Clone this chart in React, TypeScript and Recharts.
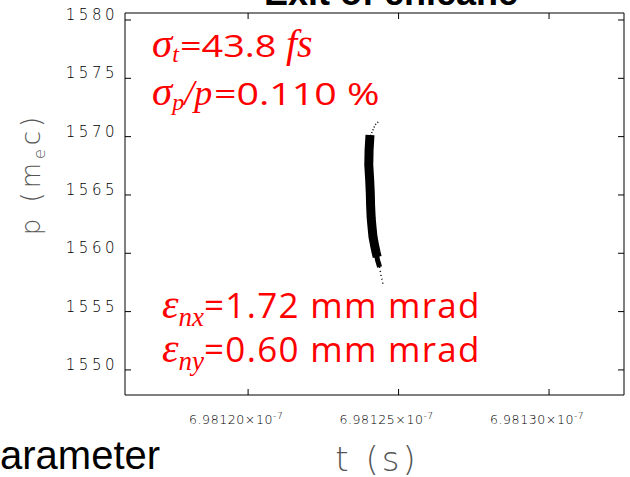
import { ComposedChart, Scatter, XAxis, YAxis } from 'recharts';

// time axis in units of 1e-7 s, momentum in m_e c
const tTicks = [6.9812, 6.98125, 6.9813];
const pTicks = [1550, 1555, 1560, 1565, 1570, 1575, 1580];
const tDomain = [6.9811591, 6.9813249];
const pDomain = [1547.85, 1580.6];

// longitudinal phase space of the bunch
const beamTopTail = [
  { t: 6.9812432, p: 1571.26 },
  { t: 6.9812422, p: 1571.0 },
  { t: 6.9812415, p: 1570.57 },
  { t: 6.9812405, p: 1569.97 },
];
const beamBody = [
  { t: 6.9812405, p: 1570.14 },
  { t: 6.9812402, p: 1568.86 },
  { t: 6.9812401, p: 1567.57 },
  { t: 6.9812404, p: 1566.28 },
  { t: 6.9812406, p: 1565.17 },
  { t: 6.9812407, p: 1564.14 },
  { t: 6.9812409, p: 1563.03 },
  { t: 6.9812412, p: 1562.17 },
  { t: 6.9812415, p: 1561.4 },
  { t: 6.981242, p: 1560.71 },
  { t: 6.9812425, p: 1560.11 },
  { t: 6.9812429, p: 1559.68 },
];
const beamTaper = [
  { t: 6.9812425, p: 1560.11 },
  { t: 6.981243, p: 1559.43 },
  { t: 6.9812437, p: 1558.83 },
];
const beamBottomTail = [
  { t: 6.9812437, p: 1558.83 },
  { t: 6.9812442, p: 1558.06 },
  { t: 6.9812449, p: 1557.28 },
];

const tickFont = { fontFamily: 'DejaVu Sans', fontWeight: 200, fill: '#000' };
const red = '#ff0000';
const serifIt = { fontFamily: 'Liberation Serif', fontStyle: 'italic' as const };
const sans = { fontFamily: 'Open Sans' };

const NoDot = () => <g />;

const BottomTick = ({ x, y, payload }: any) => (
  <g>
    <line x1={x} y1={y} x2={x} y2={y - 6} stroke="#000" />
    <text x={x - 12} y={y + 29} textAnchor="middle" fontSize={12.5} letterSpacing={0.6} {...tickFont}>
      {Number(payload.value).toFixed(5)}×10
      <tspan dy={-5} fontSize={9}>-7</tspan>
    </text>
  </g>
);

const TopTick = ({ x, y }: any) => <line x1={x} y1={y} x2={x} y2={y + 6} stroke="#000" />;

const LeftTick = ({ x, y, payload }: any) => (
  <g>
    <line x1={x} y1={y} x2={x + 6} y2={y} stroke="#000" />
    <text x={x - 7} y={y} textAnchor="end" fontSize={15} letterSpacing={3.5} {...tickFont}>
      {payload.value}
    </text>
  </g>
);

const RightTick = ({ x, y }: any) => <line x1={x} y1={y} x2={x - 6} y2={y} stroke="#000" />;

export default function App() {
  return (
    <div style={{ position: 'absolute', left: 0, top: 0, width: 630, height: 477, background: '#fff', overflow: 'hidden' }}>
      <ComposedChart width={630} height={477} margin={{ top: 12, right: 5, bottom: 0, left: 0 }}>
        <XAxis dataKey="t" type="number" domain={tDomain} ticks={tTicks} allowDataOverflow height={82}
          axisLine={{ stroke: '#000' }} tickLine={false} tickSize={0} tickMargin={0} tick={<BottomTick />} interval={0} />
        <XAxis xAxisId="top" orientation="top" dataKey="t" type="number" domain={tDomain} ticks={tTicks} allowDataOverflow height={1}
          axisLine={{ stroke: '#000' }} tickLine={false} tickSize={0} tickMargin={0} tick={<TopTick />} interval={0} />
        <YAxis dataKey="p" type="number" domain={pDomain} ticks={pTicks} allowDataOverflow width={125}
          axisLine={{ stroke: '#000' }} tickLine={false} tickSize={0} tickMargin={0} tick={<LeftTick />} interval={0} />
        <YAxis yAxisId="right" orientation="right" dataKey="p" type="number" domain={pDomain} ticks={pTicks} allowDataOverflow width={1}
          axisLine={{ stroke: '#000' }} tickLine={false} tickSize={0} tickMargin={0} tick={<RightTick />} interval={0} />
        {/* invisible copy so the frame axes on top/right get data */}
        <Scatter xAxisId="top" yAxisId="right" data={beamBody} fill="none" shape={NoDot} isAnimationActive={false} />
        <Scatter data={beamTopTail} fill="#000" shape={NoDot} isAnimationActive={false}
          line={{ stroke: '#000', strokeWidth: 1.5, strokeDasharray: '1 2' }} />
        <Scatter data={beamBody} fill="#000" shape={NoDot} isAnimationActive={false}
          line={{ stroke: '#000', strokeWidth: 9, strokeLinejoin: 'round' }} />
        <Scatter data={beamTaper} fill="#000" shape={NoDot} isAnimationActive={false}
          line={{ stroke: '#000', strokeWidth: 5, strokeLinejoin: 'round' }} />
        <Scatter data={beamBottomTail} fill="#000" shape={NoDot} isAnimationActive={false}
          line={{ stroke: '#000', strokeWidth: 1.5, strokeDasharray: '1 3' }} />
      </ComposedChart>
      <svg width={630} height={477} style={{ position: 'absolute', left: 0, top: 0, pointerEvents: 'none' }}>
        <text x={391} y={5} textAnchor="middle" fontFamily="Liberation Sans" fontWeight="bold" fontSize={36} fill="#000">
          Exit of chicane
        </text>
        <text x={0} y={469} fontFamily="Liberation Sans" fontSize={40} fill="#000">arameter</text>
        <text x={377} y={471} textAnchor="middle" fontFamily="DejaVu Sans" fontWeight={200} fontSize={34} letterSpacing={3} fill="#555">
          t  (s)
        </text>
        <g transform="translate(40,174) rotate(-90)">
          <text x={0} y={0} textAnchor="middle" fontFamily="DejaVu Sans" fontWeight={200} fontSize={26} letterSpacing={4} fill="#555">
            p (m<tspan dy={5} fontSize={16}>e</tspan><tspan dy={-5}>c)</tspan>
          </text>
        </g>
        <g fill={red}>
          <text x={152} y={57}>
            <tspan {...serifIt} fontSize={41}>σ</tspan>
            <tspan {...serifIt} fontSize={24} dy={5}>t</tspan>
          </text>
          <text transform="translate(180,57) scale(1.22,1)" {...sans} fontSize={31}>=43.8</text>
          <text x={286} y={57} {...serifIt} fontSize={40}>fs</text>
          <text x={152} y={105}>
            <tspan {...serifIt} fontSize={41}>σ</tspan>
            <tspan {...serifIt} fontSize={24} dy={5}>p</tspan>
            <tspan {...serifIt} fontSize={36} dy={-5}>/p</tspan>
          </text>
          <text transform="translate(214,105) scale(1.27,1)" {...sans} fontSize={31}>=0.110 %</text>
          <text x={162} y={318}>
            <tspan {...serifIt} fontSize={42}>ε</tspan>
            <tspan {...serifIt} fontSize={27} dy={8}>nx</tspan>
            <tspan {...sans} fontSize={35} letterSpacing={1.3} dy={-8}>=1.72 mm mrad</tspan>
          </text>
          <text x={162} y={362}>
            <tspan {...serifIt} fontSize={42}>ε</tspan>
            <tspan {...serifIt} fontSize={27} dy={8}>ny</tspan>
            <tspan {...sans} fontSize={35} letterSpacing={1.3} dy={-8}>=0.60 mm mrad</tspan>
          </text>
        </g>
      </svg>
    </div>
  );
}
